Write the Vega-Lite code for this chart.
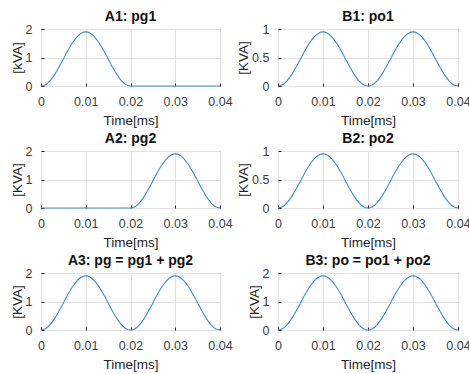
{
  "$schema": "https://vega.github.io/schema/vega-lite/v6.json",
  "padding": {"left": 9, "top": 9, "right": 0, "bottom": 0},
  "background": "white",
  "data": {"values": [
    {"t": 0.000, "pg1": 0, "pg2": 0, "pg": 0, "po1": 0, "po2": 0, "po": 0},
    {"t": 0.001, "pg1": 0.046, "pg2": 0, "pg": 0.046, "po1": 0.023, "po2": 0.023, "po": 0.046},
    {"t": 0.002, "pg1": 0.181, "pg2": 0, "pg": 0.181, "po1": 0.091, "po2": 0.091, "po": 0.181},
    {"t": 0.003, "pg1": 0.392, "pg2": 0, "pg": 0.392, "po1": 0.196, "po2": 0.196, "po": 0.392},
    {"t": 0.004, "pg1": 0.656, "pg2": 0, "pg": 0.656, "po1": 0.328, "po2": 0.328, "po": 0.656},
    {"t": 0.005, "pg1": 0.95, "pg2": 0, "pg": 0.95, "po1": 0.475, "po2": 0.475, "po": 0.95},
    {"t": 0.006, "pg1": 1.244, "pg2": 0, "pg": 1.244, "po1": 0.622, "po2": 0.622, "po": 1.244},
    {"t": 0.007, "pg1": 1.508, "pg2": 0, "pg": 1.508, "po1": 0.754, "po2": 0.754, "po": 1.508},
    {"t": 0.008, "pg1": 1.719, "pg2": 0, "pg": 1.719, "po1": 0.859, "po2": 0.859, "po": 1.719},
    {"t": 0.009, "pg1": 1.853, "pg2": 0, "pg": 1.853, "po1": 0.927, "po2": 0.927, "po": 1.853},
    {"t": 0.010, "pg1": 1.9, "pg2": 0, "pg": 1.9, "po1": 0.95, "po2": 0.95, "po": 1.9},
    {"t": 0.011, "pg1": 1.853, "pg2": 0, "pg": 1.853, "po1": 0.927, "po2": 0.927, "po": 1.853},
    {"t": 0.012, "pg1": 1.719, "pg2": 0, "pg": 1.719, "po1": 0.859, "po2": 0.859, "po": 1.719},
    {"t": 0.013, "pg1": 1.508, "pg2": 0, "pg": 1.508, "po1": 0.754, "po2": 0.754, "po": 1.508},
    {"t": 0.014, "pg1": 1.244, "pg2": 0, "pg": 1.244, "po1": 0.622, "po2": 0.622, "po": 1.244},
    {"t": 0.015, "pg1": 0.95, "pg2": 0, "pg": 0.95, "po1": 0.475, "po2": 0.475, "po": 0.95},
    {"t": 0.016, "pg1": 0.656, "pg2": 0, "pg": 0.656, "po1": 0.328, "po2": 0.328, "po": 0.656},
    {"t": 0.017, "pg1": 0.392, "pg2": 0, "pg": 0.392, "po1": 0.196, "po2": 0.196, "po": 0.392},
    {"t": 0.018, "pg1": 0.181, "pg2": 0, "pg": 0.181, "po1": 0.091, "po2": 0.091, "po": 0.181},
    {"t": 0.019, "pg1": 0.046, "pg2": 0, "pg": 0.046, "po1": 0.023, "po2": 0.023, "po": 0.046},
    {"t": 0.020, "pg1": 0, "pg2": 0, "pg": 0, "po1": 0, "po2": 0, "po": 0},
    {"t": 0.021, "pg1": 0, "pg2": 0.046, "pg": 0.046, "po1": 0.023, "po2": 0.023, "po": 0.046},
    {"t": 0.022, "pg1": 0, "pg2": 0.181, "pg": 0.181, "po1": 0.091, "po2": 0.091, "po": 0.181},
    {"t": 0.023, "pg1": 0, "pg2": 0.392, "pg": 0.392, "po1": 0.196, "po2": 0.196, "po": 0.392},
    {"t": 0.024, "pg1": 0, "pg2": 0.656, "pg": 0.656, "po1": 0.328, "po2": 0.328, "po": 0.656},
    {"t": 0.025, "pg1": 0, "pg2": 0.95, "pg": 0.95, "po1": 0.475, "po2": 0.475, "po": 0.95},
    {"t": 0.026, "pg1": 0, "pg2": 1.244, "pg": 1.244, "po1": 0.622, "po2": 0.622, "po": 1.244},
    {"t": 0.027, "pg1": 0, "pg2": 1.508, "pg": 1.508, "po1": 0.754, "po2": 0.754, "po": 1.508},
    {"t": 0.028, "pg1": 0, "pg2": 1.719, "pg": 1.719, "po1": 0.859, "po2": 0.859, "po": 1.719},
    {"t": 0.029, "pg1": 0, "pg2": 1.853, "pg": 1.853, "po1": 0.927, "po2": 0.927, "po": 1.853},
    {"t": 0.030, "pg1": 0, "pg2": 1.9, "pg": 1.9, "po1": 0.95, "po2": 0.95, "po": 1.9},
    {"t": 0.031, "pg1": 0, "pg2": 1.853, "pg": 1.853, "po1": 0.927, "po2": 0.927, "po": 1.853},
    {"t": 0.032, "pg1": 0, "pg2": 1.719, "pg": 1.719, "po1": 0.859, "po2": 0.859, "po": 1.719},
    {"t": 0.033, "pg1": 0, "pg2": 1.508, "pg": 1.508, "po1": 0.754, "po2": 0.754, "po": 1.508},
    {"t": 0.034, "pg1": 0, "pg2": 1.244, "pg": 1.244, "po1": 0.622, "po2": 0.622, "po": 1.244},
    {"t": 0.035, "pg1": 0, "pg2": 0.95, "pg": 0.95, "po1": 0.475, "po2": 0.475, "po": 0.95},
    {"t": 0.036, "pg1": 0, "pg2": 0.656, "pg": 0.656, "po1": 0.328, "po2": 0.328, "po": 0.656},
    {"t": 0.037, "pg1": 0, "pg2": 0.392, "pg": 0.392, "po1": 0.196, "po2": 0.196, "po": 0.392},
    {"t": 0.038, "pg1": 0, "pg2": 0.181, "pg": 0.181, "po1": 0.091, "po2": 0.091, "po": 0.181},
    {"t": 0.039, "pg1": 0, "pg2": 0.046, "pg": 0.046, "po1": 0.023, "po2": 0.023, "po": 0.046},
    {"t": 0.040, "pg1": 0, "pg2": 0, "pg": 0, "po1": 0, "po2": 0, "po": 0}
  ]},
  "columns": 2,
  "bounds": "flush",
  "spacing": {"row": 65, "column": 58},
  "concat": [
    {
      "title": "A1: pg1", "width": 179, "height": 57,
      "mark": {"type": "line", "color": "#3f8fc5", "strokeWidth": 1.1, "interpolate": "monotone"},
      "encoding": {
        "x": {"field": "t", "type": "quantitative", "scale": {"domain": [0, 0.04], "nice": false}, "axis": {"values": [0, 0.01, 0.02, 0.03, 0.04], "format": "~g", "title": "Time[ms]"}},
        "y": {"field": "pg1", "type": "quantitative", "scale": {"domain": [0, 2], "nice": false}, "axis": {"values": [0, 1, 2], "format": "~g", "title": "[kVA]"}}
      }
    },
    {
      "title": "B1: po1", "width": 180, "height": 57,
      "mark": {"type": "line", "color": "#3f8fc5", "strokeWidth": 1.1, "interpolate": "monotone"},
      "encoding": {
        "x": {"field": "t", "type": "quantitative", "scale": {"domain": [0, 0.04], "nice": false}, "axis": {"values": [0, 0.01, 0.02, 0.03, 0.04], "format": "~g", "title": "Time[ms]"}},
        "y": {"field": "po1", "type": "quantitative", "scale": {"domain": [0, 1], "nice": false}, "axis": {"values": [0, 0.5, 1], "format": "~g", "title": "[KVA]"}}
      }
    },
    {
      "title": "A2: pg2", "width": 179, "height": 57,
      "mark": {"type": "line", "color": "#3f8fc5", "strokeWidth": 1.1, "interpolate": "monotone"},
      "encoding": {
        "x": {"field": "t", "type": "quantitative", "scale": {"domain": [0, 0.04], "nice": false}, "axis": {"values": [0, 0.01, 0.02, 0.03, 0.04], "format": "~g", "title": "Time[ms]"}},
        "y": {"field": "pg2", "type": "quantitative", "scale": {"domain": [0, 2], "nice": false}, "axis": {"values": [0, 1, 2], "format": "~g", "title": "[KVA]"}}
      }
    },
    {
      "title": "B2: po2", "width": 180, "height": 57,
      "mark": {"type": "line", "color": "#3f8fc5", "strokeWidth": 1.1, "interpolate": "monotone"},
      "encoding": {
        "x": {"field": "t", "type": "quantitative", "scale": {"domain": [0, 0.04], "nice": false}, "axis": {"values": [0, 0.01, 0.02, 0.03, 0.04], "format": "~g", "title": "Time[ms]"}},
        "y": {"field": "po2", "type": "quantitative", "scale": {"domain": [0, 1], "nice": false}, "axis": {"values": [0, 0.5, 1], "format": "~g", "title": "[KVA]"}}
      }
    },
    {
      "title": "A3: pg = pg1 + pg2", "width": 179, "height": 57,
      "mark": {"type": "line", "color": "#3f8fc5", "strokeWidth": 1.1, "interpolate": "monotone"},
      "encoding": {
        "x": {"field": "t", "type": "quantitative", "scale": {"domain": [0, 0.04], "nice": false}, "axis": {"values": [0, 0.01, 0.02, 0.03, 0.04], "format": "~g", "title": "Time[ms]"}},
        "y": {"field": "pg", "type": "quantitative", "scale": {"domain": [0, 2], "nice": false}, "axis": {"values": [0, 1, 2], "format": "~g", "title": "[KVA]"}}
      }
    },
    {
      "title": "B3: po = po1 + po2", "width": 180, "height": 57,
      "mark": {"type": "line", "color": "#3f8fc5", "strokeWidth": 1.1, "interpolate": "monotone"},
      "encoding": {
        "x": {"field": "t", "type": "quantitative", "scale": {"domain": [0, 0.04], "nice": false}, "axis": {"values": [0, 0.01, 0.02, 0.03, 0.04], "format": "~g", "title": "Time[ms]"}},
        "y": {"field": "po", "type": "quantitative", "scale": {"domain": [0, 2], "nice": false}, "axis": {"values": [0, 1, 2], "format": "~g", "title": "[KVA]"}}
      }
    }
  ],
  "config": {
    "font": "Liberation Sans",
    "view": {"stroke": "#262626", "strokeWidth": 1},
    "axis": {
      "grid": true, "gridColor": "#e2e2e2", "gridWidth": 1,
      "domain": false, "ticks": true, "tickSize": -3, "tickColor": "#262626",
      "labelFontSize": 12.5, "labelColor": "#404040", "labelPadding": 12, "labelFlush": false,
      "titleFontSize": 13.5, "titleFontWeight": "normal", "titleColor": "#262626", "titlePadding": 6
    },
    "axisY": {"labelPadding": 12, "titlePadding": 1},
    "title": {"fontSize": 14, "fontWeight": "bold", "color": "#111111", "offset": -1}
  }
}
